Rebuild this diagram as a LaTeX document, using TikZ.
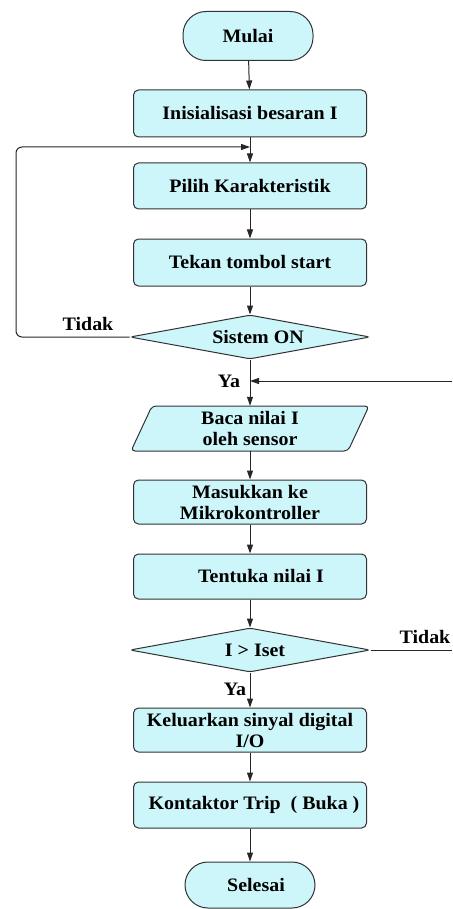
\documentclass[tikz,border=0pt]{standalone}
\usepackage{fontspec}
\setmainfont{Liberation Serif}[FakeStretch=1.05]
\usetikzlibrary{arrows.meta,shapes.geometric}
\definecolor{boxfill}{RGB}{204,246,250}
\definecolor{boxline}{RGB}{50,50,50}
\begin{document}
\begin{tikzpicture}[x=1pt,y=-1pt,
  every node/.style={font=\fontsize{19}{21}\selectfont\bfseries, inner sep=0pt, align=center},
  procbox/.style={draw=boxline, fill=boxfill, line width=1pt, rounded corners=5pt, minimum width=233pt},
  termbox/.style={draw=boxline, fill=boxfill, line width=1pt, rounded corners=23pt, minimum width=130pt, minimum height=49pt},
  decbox/.style={draw=boxline, fill=boxfill, line width=1pt, diamond, aspect=5.5, rounded corners=3pt, minimum width=240pt, minimum height=44pt},
  lbl/.style={font=\fontsize{19}{21}\selectfont\bfseries},
  flow/.style={line width=1pt, draw=black!85, -{Triangle[length=9pt,width=6pt]}},
  plain/.style={line width=1pt, draw=black!85}
]
\useasboundingbox (0,0) rectangle (452,909);
\fill[white] (0,0) rectangle (452,909);

\node[termbox] (mulai) at (248,36) {Mulai};
\node[procbox, minimum height=47pt] (init) at (250,113.5) {Inisialisasi besaran I};
\node[procbox, minimum height=46pt] (pilih) at (250,186) {Pilih Karakteristik};
\node[procbox, minimum height=47pt] (tekan) at (250,262.5) {Tekan tombol start};
\node[decbox] (sis) at (250,337) {\hspace*{16pt}Sistem ON};
\filldraw[draw=boxline, fill=boxfill, line width=1pt, rounded corners=4pt]
  (152,406) -- (369,406) -- (348,451) -- (131,451) -- cycle;
\node[minimum width=217pt, minimum height=45pt] (baca) at (250,428.5) {Baca nilai I\\oleh sensor};
\node[procbox, minimum height=44pt] (masuk) at (250,502) {Masukkan ke\\Mikrokontroller};
\node[procbox, minimum height=45pt] (tentu) at (250,576.5) {\hspace*{22pt}Tentuka nilai I};
\node[decbox] (iset) at (250,650) {\hspace*{10pt}I > Iset};
\node[procbox, minimum height=44pt] (kel) at (250,730) {Keluarkan sinyal digital\\I/O};
\node[procbox, minimum height=46pt] (kon) at (250,805) {\hspace*{8pt}Kontaktor Trip\ \ ( Buka )};
\node[termbox, minimum height=46pt] (sel) at (250,885) {\hspace*{12pt}Selesai};

\coordinate (lp) at (250,147);
\coordinate (ya) at (250,381);
\coordinate (rin) at (452,381);
\coordinate (rout) at (452,650);

\draw[flow] (mulai) -- (init);
\draw[flow] (init) -- (pilih);
\draw[flow] (pilih) -- (tekan);
\draw[flow] (tekan) -- (sis);
\draw[flow] (sis) -- (baca);
\draw[flow] (baca) -- (masuk);
\draw[flow] (masuk) -- (tentu);
\draw[flow] (tentu) -- (iset);
\draw[flow] (iset) -- (kel);
\draw[flow] (kel) -- (kon);
\draw[flow] (kon) -- (sel);

\draw[flow, rounded corners=6pt] (sis.west) -- (16,337) -- (16,147) -- (lp);
\draw[plain] (iset.east) -- (rout);
\draw[flow] (rin) -- (ya);

\node[lbl] (t1) at (88,324) {Tidak};
\node[lbl] (y1) at (229,381) {Ya};
\node[lbl] (t2) at (425,637) {Tidak};
\node[lbl] (y2) at (235,689) {Ya};
\end{tikzpicture}
\end{document}
